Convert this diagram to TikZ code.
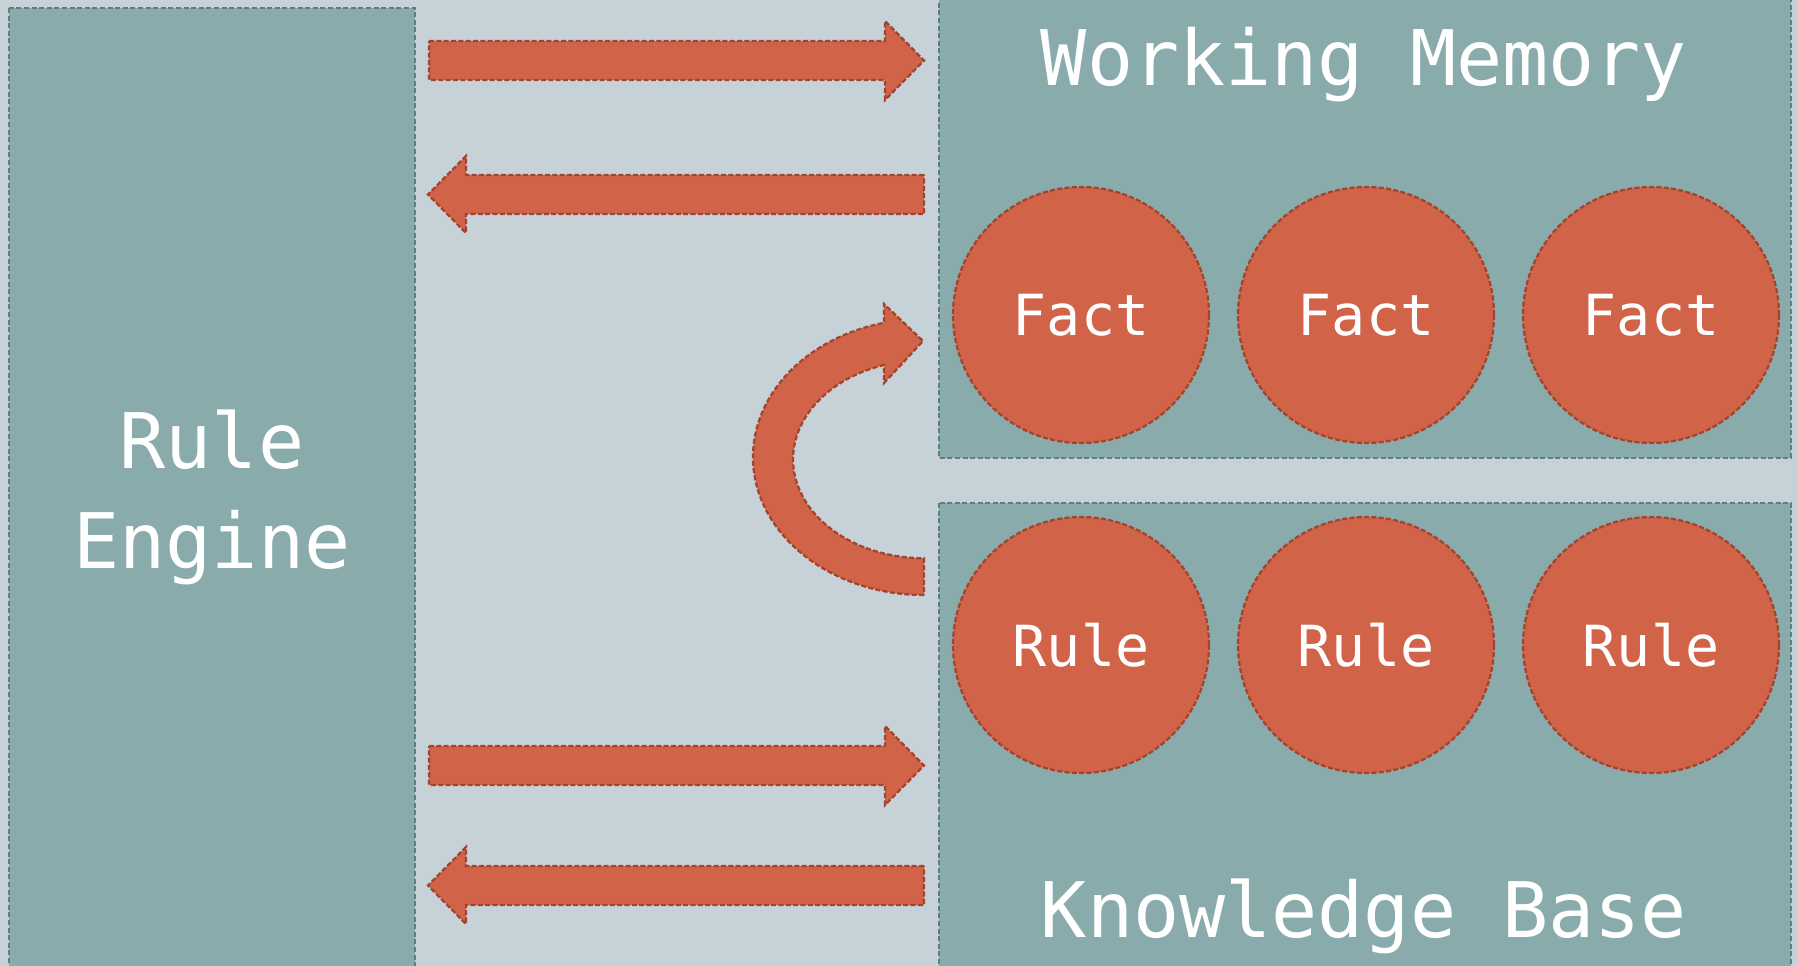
\documentclass[tikz,border=0pt]{standalone}
\usepackage{fontspec}
\setmonofont{DejaVu Sans Mono}
\definecolor{bgc}{HTML}{C6D2D8}
\definecolor{panelfill}{HTML}{8AABAC}
\definecolor{paneldraw}{HTML}{5E7E80}
\definecolor{orfill}{HTML}{D16349}
\definecolor{ordraw}{HTML}{A3442E}
\begin{document}
\begin{tikzpicture}[x=0.75pt,y=-0.75pt,
  panel/.style={fill=panelfill,draw=paneldraw,line width=1.4pt,dash pattern=on 3.8pt off 1.9pt},
  blk/.style={fill=orfill,draw=ordraw,line width=1.7pt,dash pattern=on 3.8pt off 1.7pt},
  ball/.style={circle,fill=orfill,draw=ordraw,line width=1.7pt,dash pattern=on 3.8pt off 1.7pt,
    minimum size=192pt,inner sep=0pt,text=white,font=\ttfamily\fontsize{42.5}{46}\selectfont},
  bigtxt/.style={text=white,font=\ttfamily\fontsize{57.5}{62}\selectfont,anchor=base,inner sep=0pt}]
\useasboundingbox (0,0) rectangle (1797,966);
\clip (0,0) rectangle (1797,966);
\fill[bgc] (0,0) rectangle (1797,966);
% panels
\draw[panel] (9,8) rectangle (415,980);
\draw[panel] (939,-20) rectangle (1791,458);
\draw[panel] (939,503) rectangle (1791,980);
% labels
\node[bigtxt] (re1) at (212,468) {Rule};
\node[bigtxt] (re2) at (212,568) {Engine};
\node[bigtxt] (wm) at (1364,86) {Working Memory};
\node[bigtxt] (kb) at (1364,937) {Knowledge Base};
% circles
\node[ball] (f1) at (1081,315) {Fact};
\node[ball] (f2) at (1366,315) {Fact};
\node[ball] (f3) at (1651,315) {Fact};
\node[ball] (r1) at (1081,645) {Rule};
\node[ball] (r2) at (1366,645) {Rule};
\node[ball] (r3) at (1651,645) {Rule};
% block arrows
\draw[blk] (429,41) -- (885,41) -- (885,21) -- (924,60.5) -- (885,100) -- (885,80) -- (429,80) -- cycle;
\draw[blk] (924,175) -- (466,175) -- (466,156) -- (428,194.5) -- (466,233) -- (466,214) -- (924,214) -- cycle;
\draw[blk] (429,746) -- (885,746) -- (885,726) -- (924,765.5) -- (885,805) -- (885,785) -- (429,785) -- cycle;
\draw[blk] (924,866) -- (466,866) -- (466,847) -- (428,885.5) -- (466,924) -- (466,905) -- (924,905) -- cycle;
% curved arrow
\draw[blk] (924,595) arc[start angle=90,end angle=256.5,x radius=171,y radius=138]
  -- (884,304) -- (923,341) -- (884,383) -- (884,365)
  arc[start angle=252.2,end angle=90,x radius=131,y radius=99] -- cycle;
\end{tikzpicture}
\end{document}
